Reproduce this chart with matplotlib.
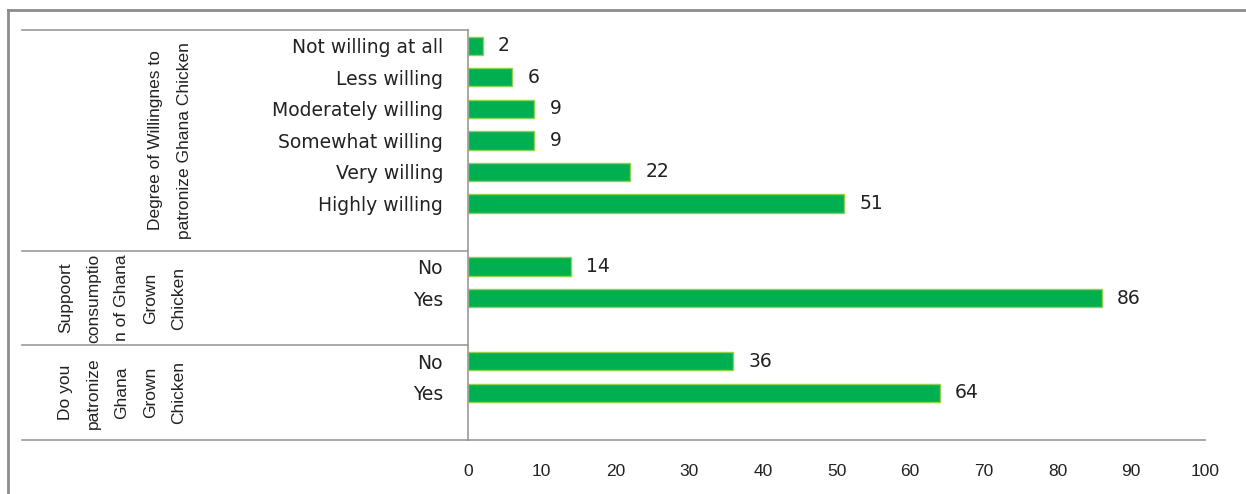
import matplotlib.pyplot as plt
from matplotlib.transforms import blended_transform_factory

# Data
willing_labels = ["Not willing at all", "Less willing", "Moderately willing",
                  "Somewhat willing", "Very willing", "Highly willing"]
willing_values = [2, 6, 9, 9, 22, 51]

support_labels = ["No", "Yes"]
support_values = [14, 86]

patronize_labels = ["No", "Yes"]
patronize_values = [36, 64]

group_titles = [
    "Degree of Willingnes to\npatronize Ghana Chicken",
    "Suppoort\nconsumptio\nn of Ghana\nGrown\nChicken",
    "Do you\npatronize\nGhana\nGrown\nChicken",
]
x_ticks = list(range(0, 101, 10))

groups = [
    (willing_labels, willing_values),
    (support_labels, support_values),
    (patronize_labels, patronize_values),
]

bar_color = "#00B050"
edge_color = "#92D050"
line_color = "#9a9a9a"
text_color = "#222222"

fig = plt.figure(figsize=(12.46, 4.94), dpi=100)
ax = fig.add_axes([468 / 1246, 1 - 440 / 494, (1205 - 468) / 1246, 410 / 494])

# each group gets its categories plus one blank slot underneath
positions, labels, values = [], [], []
group_spans = []
slot = 0
for cats, vals in groups:
    start = slot
    for c, v in zip(cats, vals):
        positions.append(slot)
        labels.append(c)
        values.append(v)
        slot += 1
    slot += 1  # blank slot
    group_spans.append((start - 0.5, slot - 0.5))

ax.barh(positions, values, height=0.58, color=bar_color,
        edgecolor=edge_color, linewidth=1)

for p, v in zip(positions, values):
    ax.annotate(str(v), (v, p), xytext=(11, 0), textcoords="offset points",
                ha="left", va="center", fontsize=13.5, color=text_color,
                family="DejaVu Sans")

ax.set_xlim(0, 100)
ax.set_ylim(slot - 0.5, -0.5)
ax.set_xticks(x_ticks)
ax.set_xticklabels([str(t) for t in x_ticks], fontsize=12.5,
                   family="Liberation Sans", color=text_color)
ax.set_yticks(positions)
ax.set_yticklabels(labels, fontsize=13.5, family="DejaVu Sans", color=text_color)
ax.tick_params(axis="x", length=0, pad=17)
ax.tick_params(axis="y", length=0, pad=18)

for side in ["top", "right"]:
    ax.spines[side].set_visible(False)
for side in ["left", "bottom"]:
    ax.spines[side].set_color(line_color)
    ax.spines[side].set_linewidth(1.2)

# group separators running out into the label area
trans = blended_transform_factory(fig.transFigure, ax.transData)
x_left = 22 / 1246
x_axis = 468 / 1246
edges = sorted({b for span in group_spans for b in span})
for y in edges:
    ax.plot([x_left, x_axis], [y, y], transform=trans, color=line_color,
            linewidth=1.2, clip_on=False)

# rotated group titles
title_x = [170 / 1246, 122 / 1246, 122 / 1246]
for (y0, y1), title, tx in zip(group_spans, group_titles, title_x):
    ax.text(tx, (y0 + y1) / 2, title, transform=trans, rotation=90,
            ha="center", va="center", multialignment="center",
            fontsize=12.5, family="Liberation Sans", linespacing=2.1,
            color=text_color)

# outer chart frame (top and left edges visible)
fig.add_artist(plt.Line2D([8 / 1246, 1], [1 - 10 / 494, 1 - 10 / 494],
                          transform=fig.transFigure, color="#8c8c8c",
                          linewidth=2))
fig.add_artist(plt.Line2D([8 / 1246, 8 / 1246], [0, 1 - 10 / 494],
                          transform=fig.transFigure, color="#8c8c8c",
                          linewidth=2))

fig.savefig("out.png", dpi=100)
